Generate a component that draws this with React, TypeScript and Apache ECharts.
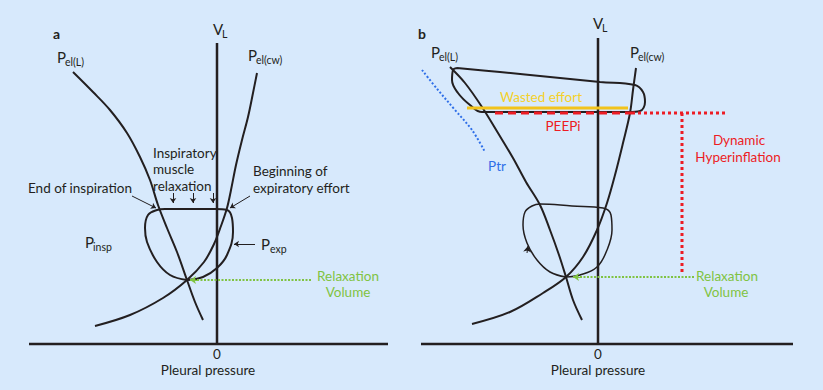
import React, { useEffect, useRef } from "react";
import * as echarts from "echarts";

// ---------- Panel a data: [pleural pressure, lung volume] (arbitrary units, 0 = axes origin)
const aLungRecoil = [[-144, 272], [-124, 252], [-107, 234], [-90, 211], [-77, 187], [-67, 164], [-59, 139], [-50, 116], [-40, 92], [-30, 64], [-22, 42], [-14, 24]];
const aChestWallRecoil = [[40, 271], [36, 251], [31, 227], [25, 204], [19, 179], [14, 154], [10, 136], [4, 118], [-3, 100], [-13, 82], [-30, 64], [-54, 46], [-87, 29], [-122, 18]];
const aBreathLoop = [[-30, 64], [-14, 67], [0, 76], [10, 89], [16, 112], [15, 126], [10, 134], [-2, 135], [-27, 135], [-52, 135], [-60, 134], [-69, 129], [-72, 116], [-70, 102], [-60, 82], [-47, 69], [-30, 64]];
const aRelaxationLine = [[-27, 64], [95, 64]];
const aVolumeAxis = [[0, 0], [0, 301]];
const aPressureAxis = [[-188, 0], [171, 0]];
const aArrows = [
  [[-85, 148], [-61, 136]],
  [[-44, 151], [-44, 141]],
  [[-24, 151], [-24, 141]],
  [[-4, 151], [-4, 141]],
  [[33, 148], [13, 136]],
  [[38, 100], [17, 100]],
];
const aGreenArrow = [[[-20, 64], [-27, 64]]];

// ---------- Panel b data
const bLungRecoil = [[-148, 277], [-133, 261], [-116, 237], [-100, 211], [-85, 186], [-72, 162], [-58, 139], [-48, 114], [-39, 89], [-32, 67], [-25, 44], [-16, 24]];
const bChestWallRecoil = [[38, 276], [35, 254], [32, 231], [25, 201], [17, 169], [9, 141], [-1, 114], [-15, 87], [-32, 67], [-55, 51], [-88, 32], [-126, 20]];
const bHyperLoop = [[-141, 276], [-98, 272], [-48, 267], [2, 262], [37, 259], [45, 252], [47, 242], [42, 233], [30, 232], [-18, 232], [-68, 232], [-116, 232], [-128, 239], [-140, 251], [-146, 264], [-145, 274], [-141, 276]];
const bNormalLoop = [[-32, 67], [-18, 69], [-1, 77], [9, 94], [14, 114], [13, 129], [5, 136], [-26, 138], [-58, 140], [-66, 138], [-73, 132], [-75, 119], [-71, 101], [-61, 84], [-48, 72], [-32, 67]];
const bWastedEffort = [[-131, 236], [30, 236]];
const bPEEPi = [[-103, 231], [34, 231]];
const bHyperH = [[34, 231], [127, 231]];
const bHyperV = [[84, 231], [84, 71]];
const bPtr = [[-176, 274], [-160, 254], [-143, 234], [-126, 214], [-113, 192]];
const bRelaxationLine = [[-25, 67], [97, 67]];
const bVolumeAxis = [[0, 0], [0, 306]];
const bPressureAxis = [[-177, 0], [195, 0]];
const bLoopArrow = [[[-71, 91], [-70, 98]]];
const bGreenArrow = [[[-18, 67], [-25, 67]]];

const BLACK = "#231f20";
const GREEN = "#80c342";
const RED = "#ed1c24";
const YELLOW_LINE = "#f2c31b";
const YELLOW_TEXT = "#f5d12a";
const BLUE = "#2f6fe8";
const FONT = "Lato, 'Open Sans', sans-serif";
const SIZE = 13.5;

function line(data: number[][], idx: number, color: string, width: number, type: any = "solid", smooth: number | boolean = 0.35, z = 3) {
  return {
    type: "line",
    data,
    xAxisIndex: idx,
    yAxisIndex: idx,
    showSymbol: false,
    symbol: "none",
    smooth,
    silent: true,
    clip: false,
    z,
    lineStyle: { color, width, type, cap: "butt" },
  };
}

function arrows(coords: number[][][], idx: number, color: string, width: number, size: number) {
  return {
    type: "lines",
    coordinateSystem: "cartesian2d",
    xAxisIndex: idx,
    yAxisIndex: idx,
    symbol: ["none", "arrow"],
    symbolSize: size,
    silent: true,
    z: 5,
    lineStyle: { color, width, opacity: 1, curveness: 0 },
    data: coords.map((c) => ({ coords: c })),
  };
}

function txt(x: number, y: number, text: string, color = BLACK, size = SIZE, align = "left", weight: any = "normal") {
  return {
    type: "text",
    x,
    y,
    silent: true,
    z: 10,
    style: {
      text,
      fill: color,
      fontSize: size,
      fontFamily: FONT,
      fontWeight: weight,
      lineHeight: Math.round(size),
      align,
      textAlign: align,
      verticalAlign: "middle",
      textVerticalAlign: "middle",
    },
  };
}

function sub(x: number, y: number, main: string, subscript: string, xs: number, color = BLACK) {
  return [txt(x, y, main, color, 15), txt(xs, y + 5, subscript, color, 10.5)];
}

export default function App() {
  const ref = useRef<HTMLDivElement>(null);
  useEffect(() => {
    if (!ref.current) return;
    const chart = echarts.init(ref.current, undefined, { renderer: "svg" });
    const axisHidden = { show: false };
    chart.setOption({
      animation: false,
      backgroundColor: "#d7e9fc",
      grid: [
        { left: 29, top: 34, width: 359, height: 310 },
        { left: 421, top: 34, width: 372, height: 310 },
      ],
      xAxis: [
        { type: "value", gridIndex: 0, min: -188, max: 171, ...axisHidden },
        { type: "value", gridIndex: 1, min: -177, max: 195, ...axisHidden },
      ],
      yAxis: [
        { type: "value", gridIndex: 0, min: 0, max: 310, ...axisHidden },
        { type: "value", gridIndex: 1, min: 0, max: 310, ...axisHidden },
      ],
      series: [
        // panel a
        line(aPressureAxis, 0, BLACK, 2.5, "solid", false),
        line(aVolumeAxis, 0, BLACK, 2.5, "solid", false),
        line(aLungRecoil, 0, BLACK, 2),
        line(aChestWallRecoil, 0, BLACK, 2),
        line(aBreathLoop, 0, BLACK, 2, "solid", 0.4),
        line(aRelaxationLine, 0, GREEN, 2, [2, 1.5], false),
        arrows(aArrows, 0, BLACK, 1, 5),
        arrows(aGreenArrow, 0, GREEN, 1, 6),
        // panel b
        line(bPressureAxis, 1, BLACK, 2.5, "solid", false),
        line(bVolumeAxis, 1, BLACK, 2.5, "solid", false),
        line(bLungRecoil, 1, BLACK, 2),
        line(bChestWallRecoil, 1, BLACK, 2),
        line(bHyperLoop, 1, BLACK, 2, "solid", 0.4),
        line(bNormalLoop, 1, BLACK, 1.5, "solid", 0.4),
        line(bWastedEffort, 1, YELLOW_LINE, 3, "solid", false, 4),
        line(bPEEPi, 1, RED, 3, [8, 5], false, 4),
        line(bHyperH, 1, RED, 3, [3, 3], false, 4),
        line(bHyperV, 1, RED, 3, [3, 3], false, 4),
        line(bPtr, 1, BLUE, 2, [2, 2]),
        line(bRelaxationLine, 1, GREEN, 2, [2, 1.5], false),
        arrows(bLoopArrow, 1, BLACK, 1, 6),
        arrows(bGreenArrow, 1, GREEN, 1, 6),
      ],
      graphic: [
        // panel a texts
        txt(53, 33, "a", BLACK, 14, "left", "bold"),
        ...sub(213, 29, "V", "L", 222),
        ...sub(57, 57, "P", "el(L)", 65),
        ...sub(248, 55, "P", "el(cw)", 256),
        txt(153, 153, "Inspiratory"),
        txt(153, 169, "muscle"),
        txt(153, 186, "relaxation"),
        txt(253, 171, "Beginning of"),
        txt(253, 188, "expiratory effort"),
        txt(28, 188, "End of inspiration"),
        ...sub(85, 242, "P", "insp", 93),
        ...sub(261, 244, "P", "exp", 270),
        txt(348, 276, "Relaxation", GREEN, SIZE, "center"),
        txt(348, 292, "Volume", GREEN, SIZE, "center"),
        txt(217, 354, "0", BLACK, SIZE, "center"),
        txt(208, 370, "Pleural pressure", BLACK, SIZE, "center"),
        // panel b texts
        txt(418, 33, "b", BLACK, 14, "left", "bold"),
        ...sub(593, 23, "V", "L", 602),
        ...sub(431, 52, "P", "el(L)", 439),
        ...sub(630, 52, "P", "el(cw)", 638),
        txt(541, 97, "Wasted effort", YELLOW_TEXT, SIZE, "center"),
        txt(563, 126, "PEEPi", RED, SIZE, "center"),
        txt(497, 166, "Ptr", BLUE, SIZE, "center"),
        txt(739, 140, "Dynamic", RED, SIZE, "center"),
        txt(738, 157, "Hyperinflation", RED, SIZE, "center"),
        txt(727, 276, "Relaxation", GREEN, SIZE, "center"),
        txt(726, 292, "Volume", GREEN, SIZE, "center"),
        txt(598, 354, "0", BLACK, SIZE, "center"),
        txt(598, 370, "Pleural pressure", BLACK, SIZE, "center"),
      ],
    });
    return () => chart.dispose();
  }, []);
  return (
    <div
      ref={ref}
      style={{ position: "fixed", left: 0, top: 0, width: 823, height: 390 }}
    />
  );
}
